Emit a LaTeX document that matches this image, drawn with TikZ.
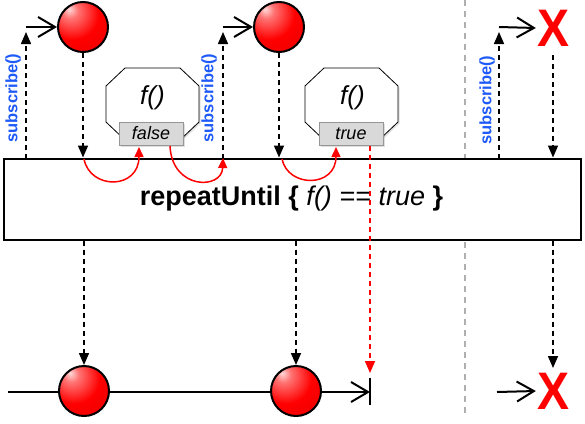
\documentclass[tikz,border=0pt]{standalone}
\usepackage{fontspec}
\setmainfont{Liberation Sans}
\usetikzlibrary{arrows.meta,shadows}
\definecolor{subblue}{RGB}{30,90,250}
\definecolor{boxgray}{RGB}{217,217,217}
\definecolor{boxedge}{RGB}{150,150,150}
\definecolor{sepgray}{RGB}{175,175,175}
\pgfdeclareradialshading{redball}{\pgfpoint{-14bp}{18bp}}{%
  color(0bp)=(red!15!white); color(8bp)=(red!55!white); color(26bp)=(red);
  color(48bp)=(red!92!black); color(70bp)=(red!75!black); color(100bp)=(red!70!black)}
\tikzset{
  ball/.style={circle, draw=black, line width=2pt, minimum size=50pt, inner sep=0pt, shading=redball},
  dasharrow/.style={line width=1.5pt, dash pattern=on 5pt off 4pt, -{Triangle[length=12pt,width=10pt]}},
  reddash/.style={dasharrow, red},
  solidarrow/.style={line width=2pt, -{Straight Barb[length=17pt,width=20pt]}},
  redarc/.style={red, line width=1.5pt, -{Triangle[length=10pt,width=9pt]}},
  sublabel/.style={rotate=90, text=subblue, font=\bfseries\fontsize{16.5}{18}\selectfont, inner sep=0pt},
  octa/.style={draw=black, line width=0.8pt, fill=white, drop shadow={opacity=0.25, shadow xshift=1.5pt, shadow yshift=-1.5pt}},
  resbox/.style={draw=boxedge, line width=0.8pt, fill=boxgray, minimum width=64pt, minimum height=23pt, inner sep=0pt, font=\itshape\fontsize{18}{20}\selectfont, drop shadow={opacity=0.25, shadow xshift=1.5pt, shadow yshift=-1.5pt}},
  ftext/.style={font=\itshape\fontsize{26}{30}\selectfont, inner sep=0pt},
  errx/.style={text=red, font=\bfseries\fontsize{48}{52}\selectfont, inner sep=0pt},
  sep/.style={sepgray, line width=1.5pt, dash pattern=on 6pt off 5pt}
}
\newcommand\myocta[1]{%
  \path[octa] (#1-27.5,68) -- (#1+27.5,68) -- (#1+46.5,86) -- (#1+46.5,122)
    -- (#1+27.5,140) -- (#1-27.5,140) -- (#1-46.5,122) -- (#1-46.5,86) -- cycle;}
\begin{document}
\begin{tikzpicture}[x=1pt,y=-1pt]
\useasboundingbox (0,0) rectangle (585,423);
\fill[white] (0,0) rectangle (585,423);

% separator
\coordinate (sepT) at (465,0);
\coordinate (sepB) at (465,415);
\draw[sep] (sepT) -- (sepB);

% operator box
\node[draw=black, line width=2pt, fill=white, minimum width=577pt, minimum height=81pt, inner sep=0pt] (box) at (292.75,199) {};
\node[font=\fontsize{27}{30}\selectfont, inner sep=0pt] (lbl) at (291.5,199)
  {\textbf{repeatUntil \{} \textit{f() == true} \textbf{\}}};

% top balls
\node[ball] (t1) at (83,27) {};
\node[ball] (t2) at (279,27) {};
\node[errx] (x1) at (553,28) {\scalebox{1}[1.1]{X}};

% subscribe arrows
\coordinate (s1b) at (26,159); \coordinate (s1t) at (26,32); \coordinate (s1c) at (26,27);
\coordinate (s2b) at (223,159); \coordinate (s2t) at (223,32); \coordinate (s2c) at (223,27);
\coordinate (s3b) at (499,159); \coordinate (s3t) at (499,32); \coordinate (s3c) at (499,27);
\draw[dasharrow] (s1b) -- (s1t);
\draw[dasharrow] (s2b) -- (s2t);
\draw[dasharrow] (s3b) -- (s3t);
\draw[solidarrow] (s1c) -- (t1.west);
\draw[solidarrow] (s2c) -- (t2.west);
\draw[solidarrow] (s3c) -- ([xshift=-1pt]x1.west);
\node[sublabel] (sub1) at (13,98) {subscribe()};
\node[sublabel] (sub2) at (209,98) {subscribe()};
\node[sublabel] (sub3) at (487,100) {subscribe()};

% top to box
\coordinate (x1d) at (553,55);
\draw[dasharrow] (t1.south) -- (t1 |- box.north);
\draw[dasharrow] (t2.south) -- (t2 |- box.north);
\draw[dasharrow] (x1d) -- (x1d |- box.north);

% predicate octagons
\myocta{152.5}
\myocta{351.5}
\node[ftext] (f1) at (152.5,98) {f()};
\node[ftext] (f2) at (352.5,98) {f()};
\node[resbox] (fb) at (151,133.5) {false};
\node[resbox] (tb) at (351,133.5) {true};

% red arcs
\coordinate (a1s) at (84,159);  \coordinate (a1e) at (139,147);
\coordinate (a2s) at (170,146); \coordinate (a2e) at (223,158);
\coordinate (a3s) at (282,159); \coordinate (a3e) at (336,147);
\draw[redarc] (a1s) .. controls (90,190) and (139,190) .. (a1e);
\draw[redarc] (a2s) .. controls (172,190) and (222,190) .. (a2e);
\draw[redarc] (a3s) .. controls (288,188) and (336,188) .. (a3e);

% red completion
\coordinate (rtop) at (370,146);
\coordinate (rend) at (370,373);
\draw[reddash] (rtop) -- (rend);

% bottom timeline
\coordinate (lstart) at (8,392);
\coordinate (endmid) at (370,392);
\coordinate (endtop) at (370,378);
\coordinate (endbot) at (370,405);
\draw[solidarrow] (lstart) -- (endmid);
\draw[line width=2pt] (endtop) -- (endbot);
\node[ball] (b1) at (84,391) {};
\node[ball] (b2) at (296,391) {};
\draw[dasharrow] (b1 |- box.south) -- (b1.north);
\draw[dasharrow] (b2 |- box.south) -- (b2.north);

% bottom error
\node[errx] (x2) at (553,391) {\scalebox{1}[1.1]{X}};
\coordinate (x2s) at (497,392);
\coordinate (x2d) at (553,368);
\draw[solidarrow] (x2s) -- ([xshift=-1pt]x2.west);
\draw[dasharrow] (x2d |- box.south) -- (x2d);
\end{tikzpicture}
\end{document}
